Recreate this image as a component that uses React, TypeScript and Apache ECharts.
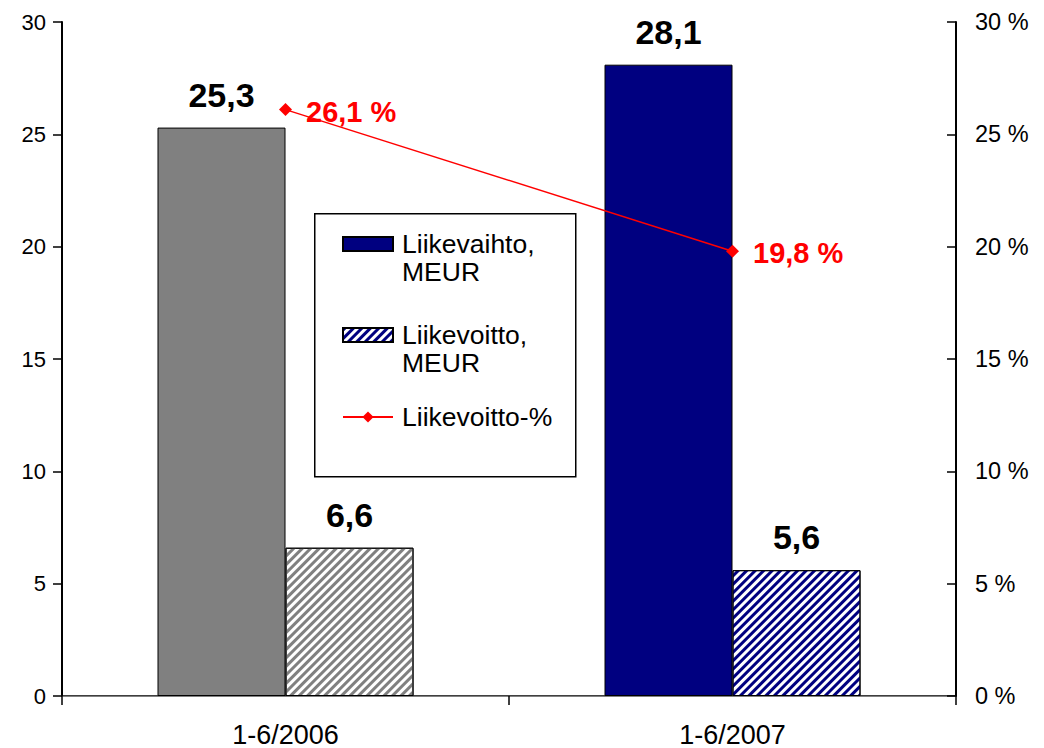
import React, { useEffect, useRef } from 'react';
import * as echarts from 'echarts';

const categories = ['1-6/2006', '1-6/2007'];
const seriesNames = ['Liikevaihto,\nMEUR', 'Liikevoitto,\nMEUR', 'Liikevoitto-%'];
const liikevaihto = [25.3, 28.1];
const liikevoitto = [6.6, 5.6];
const liikevoittoPct = [26.1, 19.8];
const periodColors = ['#808080', '#000080'];
const axisMin = 0;
const axisMax = 30;
const axisStep = 5;

const FONT = '"Liberation Sans", Arial, sans-serif';

const fmt = (v: number) => v.toFixed(1).replace('.', ',');

const hatch = (color: string) => ({
  symbol: 'rect',
  symbolSize: 1,
  dashArrayX: [1, 0],
  dashArrayY: [2.6, 2.6],
  rotation: -Math.PI / 4,
  color,
  backgroundColor: '#ffffff',
});

export default function App() {
  const ref = useRef<HTMLDivElement>(null);

  useEffect(() => {
    if (!ref.current) return;
    const chart = echarts.init(ref.current, undefined, { renderer: 'svg' });

    const legendBase: any = {
      orient: 'vertical',
      left: 342,
      itemWidth: 50,
      itemHeight: 14,
      padding: 0,
      selectedMode: false,
      textStyle: {
        fontFamily: FONT,
        fontSize: 26.5,
        color: '#000',
        lineHeight: 28,
        padding: [0, 0, 0, 4],
      },
    };

    chart.setOption({
      animation: false,
      backgroundColor: '#ffffff',
      textStyle: { fontFamily: FONT },
      grid: { left: 62, right: 88, top: 22, bottom: 52, containLabel: false },
      graphic: [
        {
          type: 'rect',
          left: 314,
          top: 213,
          shape: { width: 261, height: 263 },
          style: { fill: '#ffffff', stroke: '#000000', lineWidth: 1.5 },
        },
      ],
      legend: [
        {
          ...legendBase,
          top: 202,
          icon: 'rect',
          data: [seriesNames[0]],
          formatter: (name: string) => '\n' + name,
        },
        {
          ...legendBase,
          top: 293,
          icon: 'rect',
          data: [seriesNames[1]],
          formatter: (name: string) => '\n' + name,
        },
        { ...legendBase, top: 403, data: [seriesNames[2]] },
      ],
      xAxis: [
        {
          type: 'category',
          data: categories,
          position: 'bottom',
          axisLine: { lineStyle: { color: '#000', width: 1.5 } },
          axisTick: { show: true, length: 9, lineStyle: { color: '#000', width: 1.5 } },
          axisLabel: {
            color: '#000',
            fontSize: 27,
            lineHeight: 27,
            fontFamily: FONT,
            margin: 25,
          },
          splitLine: { show: false },
        },
        {
          type: 'category',
          data: categories,
          position: 'top',
          axisLine: { lineStyle: { color: '#808080', width: 1 } },
          axisTick: { show: false },
          axisLabel: { show: false },
          splitLine: { show: false },
        },
      ],
      yAxis: [
        {
          type: 'value',
          min: axisMin,
          max: axisMax,
          interval: axisStep,
          position: 'left',
          axisLine: { show: true, lineStyle: { color: '#000', width: 2 } },
          axisTick: { show: true, length: 9, lineStyle: { color: '#000', width: 1.5 } },
          axisLabel: { color: '#000', fontSize: 22, fontFamily: FONT, margin: 16 },
          splitLine: { show: false },
        },
        {
          type: 'value',
          min: axisMin,
          max: axisMax,
          interval: axisStep,
          position: 'right',
          axisLine: { show: true, lineStyle: { color: '#000', width: 2 } },
          axisTick: { show: true, inside: true, length: 9, lineStyle: { color: '#000', width: 1.5 } },
          axisLabel: {
            color: '#000',
            fontSize: 23.5,
            fontFamily: FONT,
            margin: 19,
            formatter: (v: number) => `${v} %`,
          },
          splitLine: { show: false },
        },
      ],
      series: [
        {
          name: seriesNames[0],
          type: 'bar',
          barWidth: 128,
          barGap: '0%',
          itemStyle: { color: periodColors[1], borderColor: '#000', borderWidth: 1 },
          data: liikevaihto.map((v, i) => ({
            value: v,
            itemStyle: { color: periodColors[i], borderColor: '#000', borderWidth: 1 },
          })),
          label: {
            show: true,
            position: 'top',
            distance: 16,
            color: '#000',
            fontSize: 34,
            fontWeight: 'bold',
            fontFamily: FONT,
            formatter: (p: any) => fmt(p.value),
          },
        },
        {
          name: seriesNames[1],
          type: 'bar',
          barWidth: 128,
          barGap: '0%',
          itemStyle: {
            color: '#ffffff',
            borderColor: '#000',
            borderWidth: 1,
            decal: hatch(periodColors[1]),
          },
          data: liikevoitto.map((v, i) => ({
            value: v,
            itemStyle: {
              color: '#ffffff',
              borderColor: '#000',
              borderWidth: 1,
              decal: hatch(periodColors[i]),
            },
          })),
          label: {
            show: true,
            position: 'top',
            distance: 16,
            color: '#000',
            fontSize: 34,
            fontWeight: 'bold',
            fontFamily: FONT,
            formatter: (p: any) => fmt(p.value),
          },
        },
        {
          name: seriesNames[2],
          type: 'line',
          yAxisIndex: 1,
          symbol: 'diamond',
          symbolSize: 13,
          z: 5,
          itemStyle: { color: '#ff0000' },
          lineStyle: { color: '#ff0000', width: 1.5 },
          data: liikevoittoPct,
          label: {
            show: true,
            position: 'right',
            distance: 14,
            offset: [0, 2],
            color: '#ff0000',
            fontSize: 29,
            fontWeight: 'bold',
            fontFamily: FONT,
            formatter: (p: any) => `${fmt(p.value)} %`,
          },
        },
      ],
    });

    return () => chart.dispose();
  }, []);

  return (
    <div
      ref={ref}
      style={{ position: 'fixed', left: 0, top: 0, width: 1044, height: 748 }}
    />
  );
}
